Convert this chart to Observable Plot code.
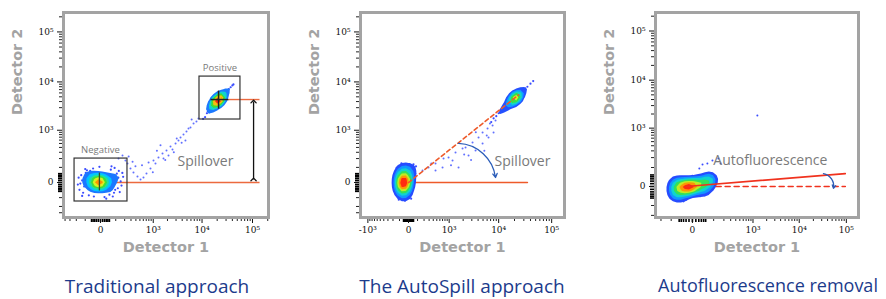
<!DOCTYPE html>
<html><head><meta charset="utf-8">
<script src="https://cdn.jsdelivr.net/npm/d3@7"></script>
<script src="https://cdn.jsdelivr.net/npm/@observablehq/plot@0.6"></script>
<style>
body{margin:0;background:#fff;}
#wrap{position:relative;width:886px;height:299px;overflow:hidden;background:#fff;}
.panel{position:absolute;top:0;}
.title{position:absolute;top:273px;font-family:"Open Sans",sans-serif;font-size:19px;color:#1c3b8c;white-space:nowrap;transform:translateX(-50%);}
</style></head><body>
<div id="wrap"></div>
<script>
// ---------- DATA ----------
const titles = ["Traditional approach", "The AutoSpill approach", "Autofluorescence removal"];
const axisLabels = ["Detector 1", "Detector 2"];
const majorTicks = [0, 1e3, 1e4, 1e5];
const majorTicksNeg = [-1e3, 0, 1e3, 1e4, 1e5];

// Panel 1 – Traditional approach
const tradNeg = [[-10,0],[-5,5],[-15,-5],[0,-3],[-20,3],[-8,10],[-12,-10],[5,2],[-25,-2],[-3,-8],[8,8],[-18,12],[-30,6],[10,-6],[-6,-15],[2,14],[-14,18],[15,4],[-22,-12],[-35,-4],
[30,10],[-50,8],[20,-25],[-40,25],[45,-10],[-60,-18],[10,35],[-15,-38],[55,20],[-70,5],[35,-35],[-45,-30],[25,40],[-80,20],[60,-5],[-5,45],[70,12],[-55,40],[40,28],[-25,-50],
[100,15],[-110,-20],[-130,10],[120,-30],[85,-60],[-95,55],[150,5],[-150,-5],[60,80],[-40,90],[-70,-80],[20,-95],[110,50],[-120,-60],[160,-15],[-170,25],[90,95],[30,-110],[-85,75],[130,70],[-5,105],[75,-90],[-140,40],[180,30],
[-160,-40],[140,-55],[-100,85],[50,-75],[-60,70],[170,55],[-180,-10],[95,-40],[-130,-85],[65,110],[-35,-90],[125,25]];
const tradPos = [[11500,1900],[12500,2300],[13000,2500],[14000,2700],[15000,3000],[15500,3100],[16000,3300],[17000,3400],[17500,3600],[18000,3700],[19000,3900],[19500,4000],[20000,4200],[20500,4100],[21000,4400],[21500,4300],[22000,4600],[22500,4500],[23000,4800],[24000,4900],[25000,5200],[26000,5400],[27000,5500],[28000,5900],[30000,6200],[32000,6700],[34000,7200],[37000,7800],[40000,8500],[42000,8900],[20000,4000],[21000,4200],[19000,3800],[22000,4400],[20500,4300],[21500,4500],[18500,3700],[23000,4600],[10500,1750],[13500,2800],[16500,3200],[24500,5300]];
const tradSparse = [[241,139],[291,90],[348,58],[437,32],[517,15],[606,26],[709,51],[870,90],[1013,174],[1118,139],[1296,215],[1576,278],[1653,201],[1909,334],[2310,422],[2540,354],[2930,498],[3365,587],[3700,688],[4250,803],[4880,938],[5360,1091],[5880,1147],[6770,1397],[7740,1540],[8480,1784],[127,201],[172,245],[211,174],[390,110],[790,150],[1430,450],[2100,245],[3100,650],[4650,587],[260,230],[330,160],[560,120],[1200,330],[1800,180],[2700,300],[3900,520],[6200,1700],[980,60]];
const tradGates = [{x1:-225,x2:241,y1:-139,y2:200,label:"Negative"},{x1:8900,x2:57800,y1:1700,y2:12800,label:"Positive"}];
const tradPosMedian = {x:21300, y:4400};
const tradNegMedian = {x:-5, y:0};

// Panel 2 – AutoSpill
const autoNeg = [[-50,0],[-45,8],[-55,-6],[-40,-3],[-60,5],[-48,15],[-52,-15],[-35,10],[-65,-10],[-42,-20],[-58,20],[-30,-5],[-70,2],[-50,28],[-45,-30],
[-20,18],[-85,-15],[-10,-25],[-95,25],[-25,40],[-80,-40],[-5,5],[-100,0],[-30,-50],[-70,50],[0,30],[-110,-25],[-15,-45],[-90,45],[-60,-60],[-40,60],
[10,-60],[-130,20],[20,50],[-140,-40],[-50,90],[-60,-100],[5,80],[-120,70],[30,0],[-150,-10],[-20,-90],[-100,-80],[15,110],[-80,115],[-35,-130],[40,25],[-160,40],[-110,-120],[60,70],[80,110],[50,130],
[-125,-60],[25,-110],[-75,140],[-140,95],[35,-30],[-10,125]];
const autoPos = [[8000,1800],[9000,2000],[10000,2300],[11000,2500],[12000,2800],[13000,2950],[14000,3200],[15000,3450],[16000,3600],[17000,3900],[18000,4100],[19000,4350],[20000,4600],[21000,4800],[22000,5050],[23000,5300],[24000,5500],[25000,5750],[27000,6200],[29000,6700],[32000,7400],[35000,8000],[40000,9200],[20500,4700],[19500,4500],[21500,4950],[18500,4250],[22500,5200],[20000,4700],[21000,4850],[45000,10400],[7200,1500]];
const autoSparse = [[74,51],[174,73],[288,99],[462,139],[740,201],[968,215],[1381,296],[1943,376],[2241,398],[3104,526],[4081,688],[4898,892],[6114,1091],[7650,1266],[8710,1618],[1189,174],[1602,99],[2578,245],[3562,334],[700,99],[4898,498],[6386,688],[7986,892],[462,73],[1100,120],[2900,180],[5300,330],[3600,900],[6800,1400],[2100,260],[350,140],[5900,760]];
const autoFit = [[0,0],[24000,5500]];

// Panel 3 – Autofluorescence
const afBlob = [[-10,0],[-5,3],[-15,-3],[0,2],[-20,-2],[-8,6],[-12,-6],[5,4],[-25,0],[-3,-5],[10,6],[-18,5],[-30,-4],[15,2],[-6,-9],[2,10],[-14,10],[20,8],[-22,-8],[-35,2],
[30,10],[-45,-5],[25,-8],[-40,12],[40,15],[-55,-12],[10,20],[-20,-20],[50,18],[-60,5],[35,-5],[-50,-20],[20,25],[-70,-8],[45,5],[-5,-22],[60,22],[-65,15],[5,-28],[-30,25],
[70,30],[-80,-25],[-90,10],[80,12],[55,-15],[-75,30],[90,35],[-100,-5],[35,40],[-40,-40],[-60,-45],[25,-40],[75,45],[-85,-35],[100,25],[-110,0],[60,50],[-20,-60],[-50,40],[85,-5],[0,45],[-30,-70],[-95,-50],[65,-25],
[-115,-20],[110,40],[-70,-60],[45,-35],[-100,25],[95,10]];
const afSparse = [[35,125],[59,134],[91,166],[140,190],[162,134],[22,92],[1250,1860]];
const afFit = [[-20,0],[95000,58]];

// ---------- helpers ----------
const sup = "⁰¹²³⁴⁵⁶";
const fmtTick = v => v === 0 ? "0" : (v < 0 ? "-" : "") + "10" + sup[Math.round(Math.log10(Math.abs(v)))];
function minorTicks(lo, hi) {
  const t = [];
  for (const e of [100, 1000, 10000, 100000]) for (let k = 1; k < 10; k++) {
    if (k === 1 && e >= 1000) continue;
    for (const v of [k * e, -k * e]) if (v >= lo && v <= hi) t.push(v);
  }
  return t;
}
const rug = d3.range(-50, 51, 10);
const hot = d3.piecewise(d3.interpolateRgb, ["#2a3cff", "#1c78ff", "#00c8ff", "#20e0a0", "#40e030", "#e8f020", "#ff8a00", "#ff2a10"]);
const cmap = t => t < 0.22 ? "none" : hot((t - 0.22) / 0.78);
const X = d => d[0], Y = d => d[1];
const FRAME = "#a3a3a3", DOT = "#3a4cff", GREY = "#7a7a7a";
const hasDensity = typeof Plot.density === "function";

function axes(xd, yd, xMajor, yMajor) {
  const tickStyle = {fontFamily: "DejaVu Serif", fontSize: 9, color: "#111", label: null};
  return [
    Plot.axisX(minorTicks(xd[0], xd[1]), {anchor: "bottom", tickSize: 4, tickFormat: () => "", color: "#222", label: null}),
    Plot.axisX(rug, {anchor: "bottom", tickSize: 5, strokeWidth: 1.6, tickFormat: () => "", color: "#000", label: null}),
    Plot.axisX(xMajor, {anchor: "bottom", tickSize: 6, tickPadding: 3, tickFormat: fmtTick, ...tickStyle}),
    Plot.axisY(minorTicks(yd[0], yd[1]), {anchor: "left", tickSize: 4, tickFormat: () => "", color: "#222", label: null}),
    Plot.axisY(rug, {anchor: "left", tickSize: 5, strokeWidth: 1.6, tickFormat: () => "", color: "#000", label: null}),
    Plot.axisY(yMajor, {anchor: "left", tickSize: 6, tickPadding: 4, tickFormat: fmtTick, ...tickStyle})
  ];
}
function labels() {
  return [
    Plot.text([axisLabels[0]], {frameAnchor: "bottom", dy: 34, fontWeight: "bold", fontSize: 14.5, fill: FRAME, fontFamily: "DejaVu Sans"}),
    Plot.text([axisLabels[1]], {frameAnchor: "left", dx: -46, rotate: -90, fontWeight: "bold", fontSize: 14.5, fill: FRAME, fontFamily: "DejaVu Sans"})
  ];
}
function blob(data, bw, th) {
  return [
    Plot.dot(data, {x: X, y: Y, r: 1.1, fill: DOT}),
    hasDensity ? Plot.density(data, {x: X, y: Y, fill: "density", bandwidth: bw, thresholds: th}) : null
  ];
}
function makePlot(cfg, marks) {
  return Plot.plot({
    width: cfg.w, height: 262,
    marginLeft: cfg.ml, marginRight: cfg.mr, marginTop: 12, marginBottom: 45,
    style: {background: "transparent", overflow: "visible"},
    x: {type: "symlog", constant: cfg.cx, domain: cfg.xd},
    y: {type: "symlog", constant: cfg.cy, domain: cfg.yd},
    color: {type: "linear", interpolate: cmap},
    marks: [
      ...axes(cfg.xd, cfg.yd, cfg.xMajor, majorTicks),
      ...marks,
      Plot.frame({stroke: FRAME, strokeWidth: 3}),
      ...labels()
    ]
  });
}

// Panel 1
const p1 = makePlot({w: 295, ml: 63, mr: 27, cx: 100, cy: 100, xd: [-437, 207000], yd: [-398, 244000], xMajor: majorTicks}, [
  Plot.link([[0, 0, 137600, 0], [33600, tradPosMedian.y, 137600, tradPosMedian.y]], {x1: d => d[0], y1: d => d[1], x2: d => d[2], y2: d => d[3], stroke: "#ec6a3f", strokeWidth: 1.4}),
  Plot.dot(tradSparse, {x: X, y: Y, r: 1, fill: DOT, fillOpacity: 0.8}),
  ...blob(tradNeg, 3.2, 9),
  ...blob(tradPos, 2.2, 7),
  Plot.rect(tradGates, {x1: "x1", x2: "x2", y1: "y1", y2: "y2", fill: "none", stroke: "#333", strokeWidth: 1.2}),
  Plot.text(tradGates, {x: d => Math.sqrt(Math.abs(d.x1 * d.x2)) * (d.x1 < 0 ? 0 : 1), y: "y2", text: "label", dy: -9, fontSize: 9.5, fill: GREY, fontFamily: "Open Sans"}),
  Plot.link([tradPosMedian], {x1: d => d.x * 0.69, x2: d => d.x * 1.58, y1: "y", y2: "y", stroke: "#222", strokeWidth: 1.5}),
  Plot.link([tradPosMedian], {x1: "x", x2: "x", y1: d => d.y * 0.65, y2: d => d.y * 1.52, stroke: "#222", strokeWidth: 1.5}),
  Plot.link([tradNegMedian], {x1: "x", x2: "x", y1: -44, y2: 58, stroke: "#2c4f2c", strokeWidth: 1.3}),
  Plot.link([{y1: 15, y2: 4000}], {x1: 105000, x2: 105000, y1: "y1", y2: "y2", stroke: "#111", strokeWidth: 1.3, markerStart: "arrow", markerEnd: "arrow"}),
  Plot.text(["Spillover"], {x: 11700, y: 160, fontSize: 14, fill: GREY, fontFamily: "Open Sans"})
]);

// Panel 2
const p2 = makePlot({w: 295, ml: 65, mr: 26, cx: 210, cy: 100, xd: [-1453, 174000], yd: [-398, 244000], xMajor: majorTicksNeg}, [
  Plot.line([[0, 0], [35000, 0]], {x: X, y: Y, stroke: "#ee5a2a", strokeWidth: 1.6}),
  Plot.dot(autoSparse, {x: X, y: Y, r: 1, fill: DOT, fillOpacity: 0.8}),
  ...blob(autoNeg, 3, 9),
  ...blob(autoPos, 2.2, 7),
  Plot.line(autoFit, {x: X, y: Y, stroke: "#ee5a2a", strokeWidth: 1.6, strokeDasharray: "4,3"}),
  Plot.arrow([{x1: 1600, y1: 500, x2: 8700, y2: 26}], {x1: "x1", y1: "y1", x2: "x2", y2: "y2", bend: 40, stroke: "#2a5cb8", strokeWidth: 1.3, headLength: 5}),
  Plot.text(["Spillover"], {x: 28300, y: 160, fontSize: 14, fill: GREY, fontFamily: "Open Sans"})
]);

// Panel 3
const p3 = makePlot({w: 296, ml: 65, mr: 28, cx: 55, cy: 70, xd: [-278, 181000], yd: [-228, 237600], xMajor: majorTicks}, [
  Plot.dot(afSparse, {x: X, y: Y, r: 1, fill: DOT}),
  ...blob(afBlob, 3, 9),
  Plot.line(afFit, {x: X, y: Y, stroke: "#f0321e", strokeWidth: 1.6}),
  Plot.line([[120, 0], [95000, 0]], {x: X, y: Y, stroke: "#f0321e", strokeWidth: 1.6, strokeDasharray: "5,4"}),
  Plot.arrow([{x1: 32700, y1: 58, x2: 53400, y2: -6}], {x1: "x1", y1: "y1", x2: "x2", y2: "y2", bend: 45, stroke: "#2a5cb8", strokeWidth: 1.3, headLength: 4}),
  Plot.text(["Autofluorescence"], {x: 2400, y: 166, fontSize: 14, fill: GREY, fontFamily: "Open Sans"})
]);

const wrap = document.getElementById("wrap");
[[p1, 0], [p2, 295], [p3, 590]].forEach(([p, left]) => {
  p.classList.add("panel");
  p.style.left = left + "px";
  wrap.appendChild(p);
});
[[titles[0], 157, 19], [titles[1], 462, 19], [titles[2], 768, 18]].forEach(([t, cx, fs]) => {
  const d = document.createElement("div");
  d.className = "title";
  d.textContent = t;
  d.style.left = cx + "px";
  d.style.fontSize = fs + "px";
  wrap.appendChild(d);
});
</script>
</body></html>
